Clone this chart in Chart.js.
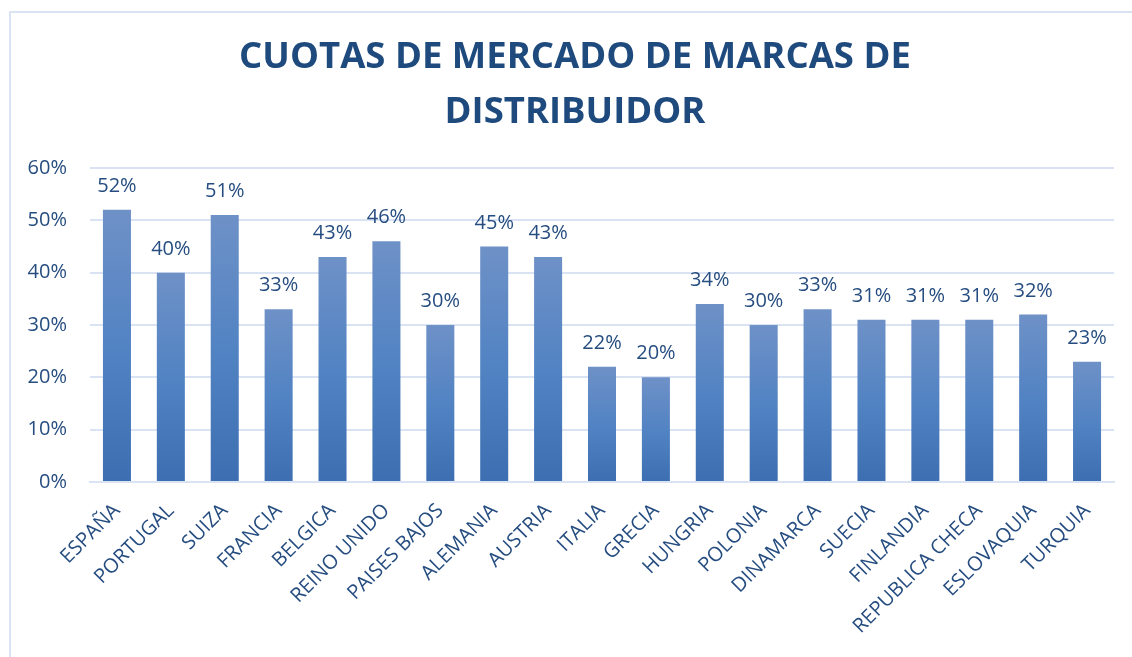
<!DOCTYPE html>
<html>
<head>
<meta charset="utf-8">
<script src="https://cdn.jsdelivr.net/npm/chart.js@4"></script>
<style>
  html, body { margin: 0; padding: 0; background: #fff; overflow: hidden; }
  #marco { position: absolute; left: 9px; top: 11px; width: 1200px; height: 700px; border: 2px solid #D9E3F3; }
  #wrap { position: absolute; left: 0; top: 0; width: 1132px; height: 657px; }
</style>
</head>
<body>
<div id="marco"></div>
<div id="wrap"><canvas id="cuotasChart"></canvas></div>
<script>
  const paises = ['ESPAÑA', 'PORTUGAL', 'SUIZA', 'FRANCIA', 'BELGICA', 'REINO UNIDO', 'PAISES BAJOS', 'ALEMANIA', 'AUSTRIA', 'ITALIA', 'GRECIA', 'HUNGRIA', 'POLONIA', 'DINAMARCA', 'SUECIA', 'FINLANDIA', 'REPUBLICA CHECA', 'ESLOVAQUIA', 'TURQUIA'];
  const cuotas = [52, 40, 51, 33, 43, 46, 30, 45, 43, 22, 20, 34, 30, 33, 31, 31, 31, 32, 23];
  const titulo = ['CUOTAS DE MERCADO DE MARCAS DE', 'DISTRIBUIDOR'];

  const azulTexto = '#264D80';
  const fuente = "'Open Sans', 'Noto Sans', sans-serif";

  // degradado por barra: claro arriba, oscuro abajo
  function colorBarra(ctx) {
    const chart = ctx.chart;
    if (!chart.chartArea || ctx.parsed === undefined) return '#4A78B8';
    const y = chart.scales.y;
    const top = y.getPixelForValue(ctx.parsed.y);
    const base = y.getPixelForValue(0);
    const g = chart.ctx.createLinearGradient(0, top, 0, base);
    g.addColorStop(0, '#6E91C7');
    g.addColorStop(0.5, '#5283C3');
    g.addColorStop(1, '#3D6EB1');
    return g;
  }

  const etiquetas = {
    id: 'etiquetas',
    afterDatasetsDraw(chart) {
      const c = chart.ctx;
      const meta = chart.getDatasetMeta(0);
      c.save();
      c.font = '20px ' + fuente;
      c.fillStyle = azulTexto;
      c.textAlign = 'center';
      c.textBaseline = 'alphabetic';
      meta.data.forEach((bar, i) => {
        c.fillText(cuotas[i] + '%', bar.x, bar.y - 18);
      });
      c.restore();
    }
  };

  // el título va centrado en el marco, un poco a la derecha
  const moverTitulo = {
    id: 'moverTitulo',
    afterLayout(chart) {
      const t = chart.titleBlock;
      if (t) { t.left += 18; t.right += 18; }
    }
  };

  const ctx = document.getElementById('cuotasChart').getContext('2d');
  window.cuotasChart = new Chart(ctx, {
    type: 'bar',
    data: {
      labels: paises,
      datasets: [{
        label: 'Cuota',
        data: cuotas,
        backgroundColor: colorBarra,
        categoryPercentage: 1,
        barPercentage: 0.52
      }]
    },
    options: {
      responsive: true,
      maintainAspectRatio: false,
      animation: false,
      layout: { padding: { left: 0, right: 18, top: 0, bottom: 0 } },
      plugins: {
        legend: { display: false },
        tooltip: { enabled: false },
        title: {
          display: true,
          text: titulo,
          color: '#1F4A7D',
          font: { family: fuente, size: 36.5, weight: 'bold', lineHeight: 1.5 },
          padding: { top: 30.5, bottom: 28 }
        }
      },
      scales: {
        y: {
          min: 0,
          max: 60,
          afterFit(s) { s.width = 90; },
          ticks: {
            stepSize: 10,
            padding: 23,
            color: azulTexto,
            font: { family: fuente, size: 20 },
            callback: v => v + '%'
          },
          grid: { color: '#D9E3F3', lineWidth: 2, drawTicks: false },
          border: { display: false }
        },
        x: {
          afterFit(s) { s.height = 175; },
          ticks: {
            minRotation: 45,
            maxRotation: 45,
            autoSkip: false,
            padding: 17,
            color: azulTexto,
            font: { family: fuente, size: 20 }
          },
          grid: { display: false, drawTicks: false },
          border: { display: true, color: '#D9E3F3', width: 2 }
        }
      }
    },
    plugins: [etiquetas, moverTitulo]
  });
</script>
</body>
</html>
